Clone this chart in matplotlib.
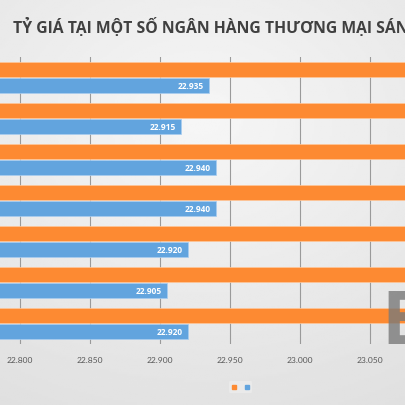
import numpy as np
import matplotlib
matplotlib.use("Agg")
import matplotlib.pyplot as plt
from matplotlib.lines import Line2D

# ---- data ----
banks = ["NH1", "NH2", "NH3", "NH4", "NH5", "NH6", "NH7"]
sell_rates = [23.105, 23.095, 23.110, 23.110, 23.090, 23.085, 23.100]
buy_rates = [22.935, 22.915, 22.940, 22.940, 22.920, 22.905, 22.920]
xticks = [22.800, 22.850, 22.900, 22.950, 23.000, 23.050]
xtick_labels = ["22.800", "22.850", "22.900", "22.950", "23.000", "23.050"]
title = "TỶ GIÁ TẠI MỘT SỐ NGÂN HÀNG THƯƠNG MẠI SÁNG NAY"
axis_min = 22.750
view_min, view_max = 22.786, 23.076

ORANGE = "#fd8a32"
BLUE = "#62a4de"

W = H = 4.06
fig = plt.figure(figsize=(W, H), dpi=100)

# background gradient
bg = fig.add_axes([0, 0, 1, 1], zorder=-10)
yy, xx = np.mgrid[0:1:200j, 0:1:200j]
r = np.sqrt((xx - 0.5) ** 2 * 0.6 + (yy - 0.3) ** 2)
grad = 0.965 - 0.11 * np.clip(r, 0, 1)
bg.imshow(grad, cmap="gray", vmin=0, vmax=1, extent=[0, 1, 0, 1], aspect="auto", origin="upper")
bg.axis("off")

ax = fig.add_axes([0, 1 - 345 / 406, 1, (345 - 58) / 406])
ax.patch.set_alpha(0)
n = len(banks)
pos = np.arange(n)
h = 0.375
ax.barh(pos - 0.195, [s - axis_min for s in sell_rates], left=axis_min, height=h,
        color=ORANGE, edgecolor="#ffc79a", linewidth=0.5, zorder=3)
ax.barh(pos + 0.195, [b - axis_min for b in buy_rates], left=axis_min, height=h,
        color=BLUE, edgecolor="#a9cdf0", linewidth=0.5, zorder=3)
for p, v in zip(pos, buy_rates):
    ax.text(v - 0.0035, p + 0.195, f"{v:.3f}", ha="right", va="center",
            color="white", fontsize=6.0, fontweight="bold", family="Open Sans", zorder=4)

ax.set_xlim(view_min, view_max)
ax.set_ylim(n - 0.5, -0.5)
ax.set_xticks(xticks)
ax.set_xticklabels(xtick_labels, fontsize=6.1, color="#595959", family="Lato")
ax.tick_params(axis="x", length=0, pad=8.5)
ax.set_yticks([])
ax.grid(axis="x", color="#9a9a9a", linewidth=0.8, zorder=0)
for s in ax.spines.values():
    s.set_visible(False)

fig.text(13 / 406, 1 - 27 / 406, title, fontsize=11.3, fontweight="bold",
         color="#404040", family="Open Sans", va="center", ha="left")

# watermark
fig.text(381 / 406, 1 - 325 / 406, "B", fontsize=53, fontweight="bold",
         color="#7a7a7a", alpha=0.8, family="Open Sans", va="center", ha="left", zorder=5)

handles = [Line2D([], [], marker="s", linestyle="", color=ORANGE, markersize=3.2),
           Line2D([], [], marker="s", linestyle="", color=BLUE, markersize=3.2)]
fig.legend(handles, ["", ""], loc="center", bbox_to_anchor=(240.5 / 406, 1 - 388 / 406),
           ncol=2, frameon=True, facecolor="#eaeaea", edgecolor="none", framealpha=1,
           handlelength=0.6, handletextpad=0.0, columnspacing=1.4, borderpad=0.4, fontsize=5)

fig.savefig("out.png", dpi=100)
